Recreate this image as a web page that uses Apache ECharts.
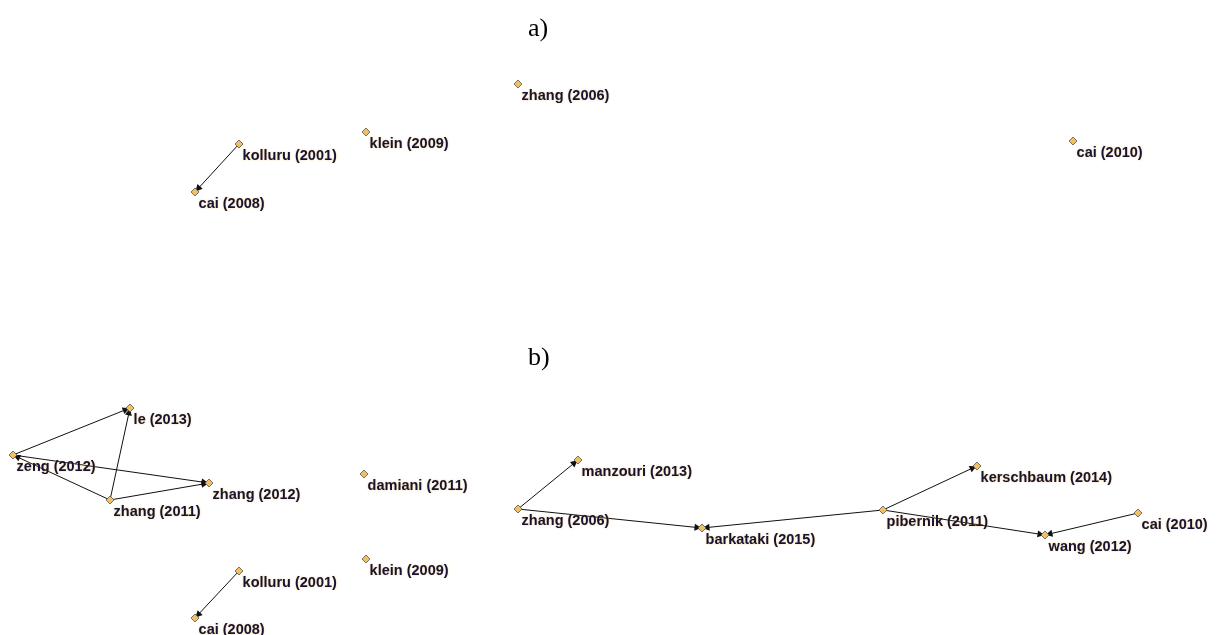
<!DOCTYPE html>
<html><head><meta charset="utf-8">
<script src="https://cdn.jsdelivr.net/npm/echarts@6/dist/echarts.min.js"></script>
<style>html,body{margin:0;padding:0;background:#fff}#c{width:1226px;height:635px}</style>
</head><body><div id="c"></div>
<script>
// Panel a) nodes
const namesA = ['zhang (2006)', 'klein (2009)', 'kolluru (2001)', 'cai (2008)', 'cai (2010)'];
const xA = [518, 366, 239, 195, 1073];
const yA = [84, 132, 144, 192, 141];
const edgesA = [['kolluru (2001)', 'cai (2008)']];

// Panel b) nodes
const namesB = ['le (2013)', 'zeng (2012)', 'zhang (2012)', 'zhang (2011)', 'damiani (2011)', 'klein (2009)',
  'kolluru (2001)', 'cai (2008)', 'manzouri (2013)', 'zhang (2006)', 'barkataki (2015)', 'pibernik (2011)',
  'kerschbaum (2014)', 'wang (2012)', 'cai (2010)'];
const xB = [130, 13, 209, 110, 364, 366, 239, 195, 578, 518, 702, 883, 977, 1045, 1138];
const yB = [408, 455, 483, 500, 474, 559, 571, 618, 460, 509, 528, 510, 466, 535, 513];
const edgesB = [
  ['kolluru (2001)', 'cai (2008)'],
  ['zeng (2012)', 'le (2013)'],
  ['zeng (2012)', 'zhang (2012)'],
  ['zhang (2011)', 'le (2013)'],
  ['zhang (2011)', 'zhang (2012)'],
  ['zhang (2011)', 'zeng (2012)'],
  ['zhang (2006)', 'manzouri (2013)'],
  ['zhang (2006)', 'barkataki (2015)'],
  ['pibernik (2011)', 'barkataki (2015)'],
  ['pibernik (2011)', 'kerschbaum (2014)'],
  ['pibernik (2011)', 'wang (2012)'],
  ['cai (2010)', 'wang (2012)']
];
const panelTitles = ['a)', 'b)'];

function mkSeries(names, xs, ys, edges) {
  return {
    type: 'graph',
    coordinateSystem: 'cartesian2d',
    symbol: 'diamond',
    symbolSize: 8,
    edgeSymbol: ['none', 'triangle'],
    edgeSymbolSize: [0, 7],
    itemStyle: { color: '#f2c063', borderColor: '#555', borderWidth: 0.8 },
    lineStyle: { color: '#111', width: 1, opacity: 1 },
    label: {
      show: true, position: [8, 8.5], align: 'left', verticalAlign: 'top',
      formatter: '{b}', fontFamily: 'Liberation Sans, Arial, sans-serif', fontWeight: 'bold',
      fontSize: 14.5, color: '#141436', textShadowColor: 'rgba(240,180,80,0.7)', textShadowBlur: 2
    },
    emphasis: { disabled: true },
    animation: false,
    data: names.map((n, i) => ({ name: n, value: [xs[i], ys[i]] })),
    links: edges.map(e => ({ source: e[0], target: e[1] }))
  };
}

const chart = echarts.init(document.getElementById('c'));
chart.setOption({
  animation: false,
  backgroundColor: '#fff',
  title: [
    { text: panelTitles[0], left: 523, top: 11, textStyle: { fontFamily: 'Liberation Serif, Times New Roman, serif', fontWeight: 'normal', fontSize: 26, color: '#000' } },
    { text: panelTitles[1], left: 523, top: 340, textStyle: { fontFamily: 'Liberation Serif, Times New Roman, serif', fontWeight: 'normal', fontSize: 26, color: '#000' } }
  ],
  grid: { left: 0, right: 0, top: 0, bottom: 0 },
  xAxis: { type: 'value', min: 0, max: 1226, show: false },
  yAxis: { type: 'value', min: 0, max: 635, inverse: true, show: false },
  series: [mkSeries(namesA, xA, yA, edgesA), mkSeries(namesB, xB, yB, edgesB)]
});
</script></body></html>
